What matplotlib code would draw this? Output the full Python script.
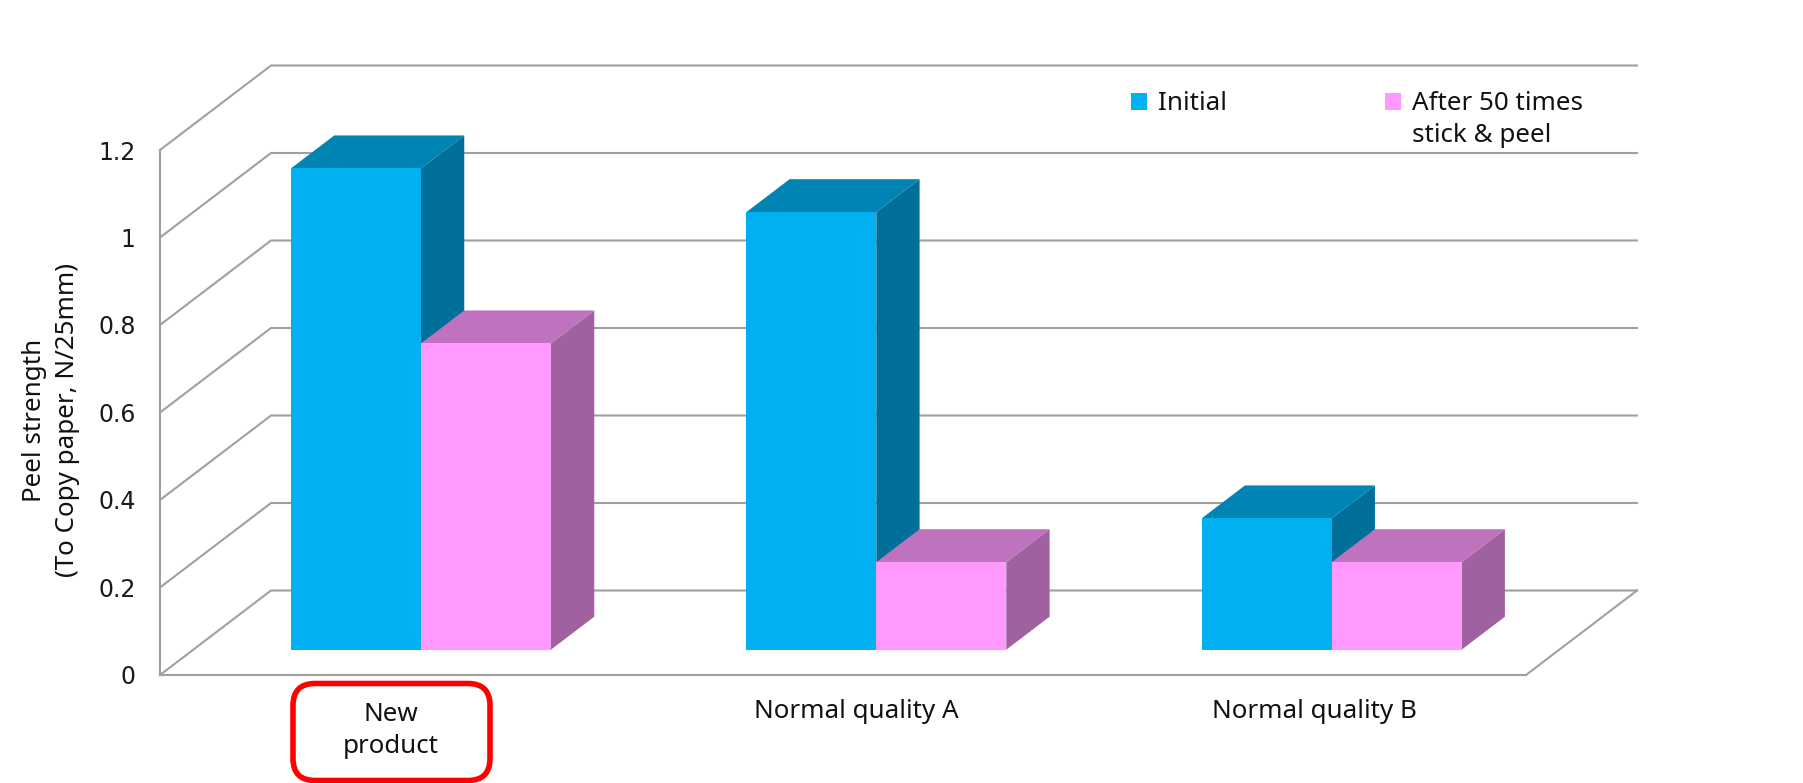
import matplotlib
matplotlib.use("Agg")
import matplotlib.pyplot as plt
from matplotlib.patches import Polygon, FancyBboxPatch, Patch
from matplotlib.transforms import IdentityTransform

categories = ["New\nproduct", "Normal quality A", "Normal quality B"]
initial = [1.1, 1.0, 0.3]
after_50 = [0.7, 0.2, 0.2]
series_names = ["Initial", "After 50 times\nstick & peel"]
y_ticks = [0, 0.2, 0.4, 0.6, 0.8, 1, 1.2]
y_tick_labels = ["0", "0.2", "0.4", "0.6", "0.8", "1", "1.2"]
y_title = "Peel strength\n(To Copy paper, N/25mm)"

W, H = 1803, 783
FONT = "Noto Sans"
FS = 18.7
plt.rcParams["font.family"] = [FONT, "DejaVu Sans"]
GRID = "#A0A0A0"
BLUE = ("#00B0F0", "#0084B4", "#006F9A")
PINK = ("#FF99FF", "#BF73BF", "#A061A0")

fig = plt.figure(figsize=(W / 100, H / 100), dpi=100, facecolor="white")
ax = fig.add_axes([160 / W, 1 - 675 / H, 1366 / W, 525 / H])
ax.set_xlim(-0.5, 2.5)
ax.set_ylim(0, 1.2)
ax.patch.set_alpha(0)

DX = 111 / (1366 / 3)
DY = 84.5 / (525 / 1.2)
Z0, Z1 = 0.30, 0.69
BW = 130 / (1366 / 3)


def proj(x, y, z):
    return (x + z * DX, y + z * DY)


# walls and floor
for v in y_ticks:
    xs, ys = zip(proj(-0.5, v, 0), proj(-0.5, v, 1), proj(2.5, v, 1))
    ax.plot(xs, ys, color=GRID, lw=1.5, clip_on=False, zorder=1, solid_joinstyle="miter")
xs, ys = zip(proj(2.5, 0, 0), proj(2.5, 0, 1))
ax.plot(xs, ys, color=GRID, lw=1.5, clip_on=False, zorder=1)


def box(left, value, colors, z):
    ax.bar(left + Z0 * DX, value, BW, bottom=Z0 * DY, align="edge", color=colors[0],
           clip_on=False, zorder=z + 0.2, linewidth=0)
    right = left + BW
    top = [proj(left, value, Z0), proj(right, value, Z0), proj(right, value, Z1), proj(left, value, Z1)]
    side = [proj(right, 0, Z0), proj(right, value, Z0), proj(right, value, Z1), proj(right, 0, Z1)]
    ax.add_patch(Polygon(top, closed=True, fc=colors[1], ec="none", clip_on=False, zorder=z + 0.1))
    ax.add_patch(Polygon(side, closed=True, fc=colors[2], ec="none", clip_on=False, zorder=z))


for i in range(len(categories)):
    box(i - BW, initial[i], BLUE, 3)
    box(i, after_50[i], PINK, 4)

for s in ("top", "right"):
    ax.spines[s].set_visible(False)
for s in ("left", "bottom"):
    ax.spines[s].set_color(GRID)
    ax.spines[s].set_linewidth(1.5)
    ax.spines[s].set_zorder(1)

ax.set_yticks(y_ticks, y_tick_labels)
ax.tick_params(axis="y", length=0, pad=17.5, labelsize=17, labelfontfamily="DejaVu Sans", labelcolor="#1a1a1a")
ax.set_xticks([0.007, 1.03, 2.036], categories, fontsize=FS, color="#111111", linespacing=1.35)
ax.tick_params(axis="x", length=0, pad=17)
ax.xaxis.get_major_ticks()[0].set_pad(19.5)

ax.set_ylabel(y_title, fontsize=FS, color="#111111", linespacing=1.4)
ax.yaxis.set_label_coords((79.5 - 160) / 1366, (675 - 420) / 525)

# highlighted category box
ax.add_patch(FancyBboxPatch((293, H - 780.5), 197, 97,
                            boxstyle="round,pad=0,rounding_size=22", fc="none", ec="#FF0000",
                            lw=4, transform=IdentityTransform(), clip_on=False, zorder=6))

handles = [Patch(fc=BLUE[0], ec="none"), Patch(fc=PINK[0], ec="none")]
leg = ax.legend(handles, series_names, ncol=2, frameon=False, fontsize=FS,
                handlelength=0.62, handleheight=0.62, handletextpad=0.43,
                columnspacing=6.07, labelspacing=0, borderpad=0, borderaxespad=0,
                loc="upper left", bbox_to_anchor=(1131 / W, 1 - 91.5 / H),
                bbox_transform=fig.transFigure)
leg._legend_handle_box.align = "top"
for col in leg._legend_handle_box.get_children():
    col.align = "left"
    for row in col.get_children():
        row.align = "top"
        for rect in row.get_children()[0].get_children():
            rect.set_y(rect.get_y() - 1)
for t in leg.get_texts():
    t.set_color("#111111")
    t.set_linespacing(1.35)

fig.savefig("out.png", dpi=100)
